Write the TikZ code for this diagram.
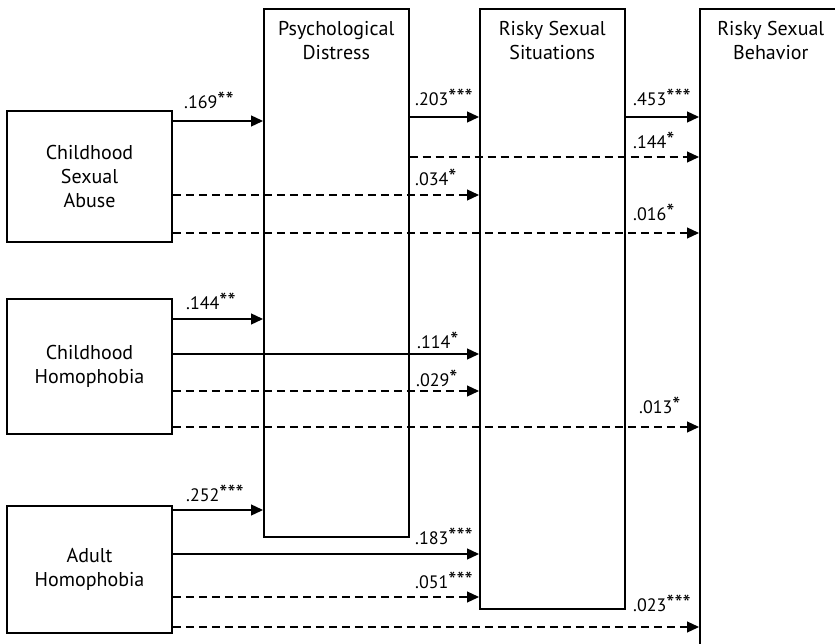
\documentclass[tikz,border=0pt]{standalone}
\usepackage{fontspec}
\setmainfont{PT Sans}
\usetikzlibrary{positioning,arrows.meta}

% significance stars
\newcommand{\stars}[1]{{\fontsize{23}{20}\selectfont #1}}

\begin{document}
\begin{tikzpicture}[x=1pt,y=-1pt,
		box/.style={draw, line width=1.6pt, inner sep=0pt, align=center, font=\fontsize{20}{24}\selectfont},
		title/.style={inner sep=0pt, align=center, font=\fontsize{20}{24}\selectfont},
		val/.style={inner sep=0pt, anchor=base west, font=\fontsize{18}{20}\selectfont},
		link/.style={line width=1.3pt, -{Triangle[length=12pt,width=11pt]}},
		dlink/.style={link, line width=1.2pt, dash pattern=on 8pt off 5pt}
		]
		\useasboundingbox (0,0) rectangle (835,644);
		% exogenous variables
		\node[box, minimum width=165pt, minimum height=131pt] (csa) at (89.5,176.5) {Childhood\\Sexual\\Abuse};
		\node[box, minimum width=165pt, minimum height=135pt] (ch) at (89.5,366.5) {Childhood\\Homophobia};
		\node[box, minimum width=165pt, minimum height=127pt] (ah) at (89.5,569.5) {Adult\\Homophobia};
		% mediators and outcome
		\node[box, minimum width=145pt, minimum height=528pt, anchor=north west] (pd) at (263,8) {};
		\node[box, minimum width=145pt, minimum height=600pt, anchor=north west] (rss) at (479,8) {};
		\node[box, minimum width=142pt, minimum height=700pt, anchor=north west] (rsb) at (699,8) {};
		\node[title, below=13pt of pd.north] (pdt) {Psychological\\Distress};
		\node[title, below=13pt of rss.north] (rsst) {Risky Sexual\\Situations};
		\node[title, below=13pt of rsb.north] (rsbt) {Risky Sexual\\Behavior};
		% rows of the paths
		\coordinate (r1) at (0,121);
		\coordinate (r2) at (0,117);
		\coordinate (r3) at (0,157);
		\coordinate (r4) at (0,195);
		\coordinate (r5) at (0,233);
		\coordinate (r6) at (0,319);
		\coordinate (r7) at (0,354);
		\coordinate (r8) at (0,391);
		\coordinate (r9) at (0,427);
		\coordinate (r10) at (0,510);
		\coordinate (r11) at (0,554);
		\coordinate (r12) at (0,597);
		\coordinate (r13) at (0,627);
		\draw[link] (csa.east |- r1) -- (pd.west |- r1);
		\draw[link] (pd.east |- r2) -- (rss.west |- r2);
		\draw[link] (rss.east |- r2) -- (rsb.west |- r2);
		\draw[dlink] (pd.east |- r3) -- (rsb.west |- r3);
		\draw[dlink] (csa.east |- r4) -- (rss.west |- r4);
		\draw[dlink] (csa.east |- r5) -- (rsb.west |- r5);
		\draw[link] (ch.east |- r6) -- (pd.west |- r6);
		\draw[link] (ch.east |- r7) -- (rss.west |- r7);
		\draw[dlink] (ch.east |- r8) -- (rss.west |- r8);
		\draw[dlink] (ch.east |- r9) -- (rsb.west |- r9);
		\draw[link] (ah.east |- r10) -- (pd.west |- r10);
		\draw[link] (ah.east |- r11) -- (rss.west |- r11);
		\draw[dlink] (ah.east |- r12) -- (rss.west |- r12);
		\draw[dlink] (ah.east |- r13) -- (rsb.west |- r13);
		% coefficients
		\node[val] (v1) at (184,109) {.169\stars{**}};
		\node[val] (v2) at (415,106) {.203\stars{***}};
		\node[val] (v3) at (633,106) {.453\stars{***}};
		\node[val] (v4) at (633,149) {.144\stars{*}};
		\node[val] (v5) at (415,186) {.034\stars{*}};
		\node[val] (v6) at (633,221) {.016\stars{*}};
		\node[val] (v7) at (186,309) {.144\stars{**}};
		\node[val] (v8) at (417,348) {.114\stars{*}};
		\node[val] (v9) at (416,386) {.029\stars{*}};
		\node[val] (v10) at (639,413) {.013\stars{*}};
		\node[val] (v11) at (186,501) {.252\stars{***}};
		\node[val] (v12) at (415,544) {.183\stars{***}};
		\node[val] (v13) at (415,588) {.051\stars{***}};
		\node[val] (v14) at (633,611) {.023\stars{***}};
	\end{tikzpicture}
\end{document}
